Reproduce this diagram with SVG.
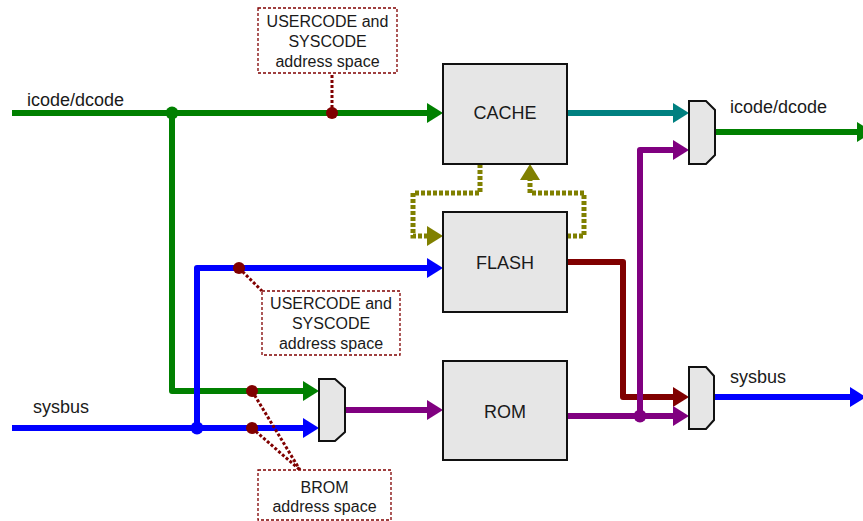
<svg xmlns="http://www.w3.org/2000/svg" width="863" height="521" viewBox="0 0 863 521">
<style>
text{font-family:"Liberation Sans",Arial,sans-serif;fill:#1a1a1a}
.lbl{font-size:18px}
.box{fill:#e6e6e6;stroke:#111;stroke-width:2}
.bt{font-size:18px;text-anchor:middle}
.note{fill:#fff;stroke:#800000;stroke-width:1.3;stroke-dasharray:3,2}
.nt{font-size:16px;text-anchor:middle}
.w{fill:none;stroke-width:6;stroke-linejoin:round}
.dot{fill:none;stroke:#800000;stroke-width:3;stroke-dasharray:3,2}
.ol{fill:none;stroke:#808000;stroke-width:5;stroke-dasharray:4,2}
</style>
<defs>
<marker id="aG" markerUnits="userSpaceOnUse" markerWidth="16" markerHeight="20" viewBox="0 0 16 20" refX="0" refY="10" orient="auto"><path d="M0,0 L16,10 L0,20 Z" fill="#008000"/></marker>
<marker id="aB" markerUnits="userSpaceOnUse" markerWidth="16" markerHeight="20" viewBox="0 0 16 20" refX="0" refY="10" orient="auto"><path d="M0,0 L16,10 L0,20 Z" fill="#0000ff"/></marker>
<marker id="aP" markerUnits="userSpaceOnUse" markerWidth="16" markerHeight="20" viewBox="0 0 16 20" refX="0" refY="10" orient="auto"><path d="M0,0 L16,10 L0,20 Z" fill="#800080"/></marker>
<marker id="aT" markerUnits="userSpaceOnUse" markerWidth="16" markerHeight="20" viewBox="0 0 16 20" refX="0" refY="10" orient="auto"><path d="M0,0 L16,10 L0,20 Z" fill="#008080"/></marker>
<marker id="aR" markerUnits="userSpaceOnUse" markerWidth="16" markerHeight="20" viewBox="0 0 16 20" refX="0" refY="10" orient="auto"><path d="M0,0 L16,10 L0,20 Z" fill="#800000"/></marker>
<marker id="aO" markerUnits="userSpaceOnUse" markerWidth="16" markerHeight="20" viewBox="0 0 16 20" refX="0" refY="10" orient="auto"><path d="M0,0 L16,10 L0,20 Z" fill="#808000"/></marker>
</defs>
<rect width="863" height="521" fill="#fff"/>

<g id="connectors">
  <path class="w" stroke="#008000" d="M12,113 H427" marker-end="url(#aG)"/>
  <path class="w" stroke="#008000" d="M172,113 V391 H303" marker-end="url(#aG)"/>
  <path class="w" stroke="#0000ff" d="M12,428 H303" marker-end="url(#aB)"/>
  <path class="w" stroke="#0000ff" d="M197,428 V268 H427" marker-end="url(#aB)"/>
  <path class="w" stroke="#800080" d="M345,410 H427" marker-end="url(#aP)"/>
  <path class="w" stroke="#008080" d="M567,113 H673" marker-end="url(#aT)"/>
  <path class="w" stroke="#008000" d="M715,132 H857" marker-end="url(#aG)"/>
  <path class="w" stroke="#0000ff" d="M714,397 H850" marker-end="url(#aB)"/>
  <path class="w" stroke="#800000" d="M567,262 H623 V397 H673" marker-end="url(#aR)"/>
  <path class="w" stroke="#800080" d="M567,416 H673" marker-end="url(#aP)"/>
  <path class="w" stroke="#800080" d="M640,416 V150 H673" marker-end="url(#aP)"/>
  <path class="ol" d="M480,164 V193 H413 V236 H427" marker-end="url(#aO)"/>
  <path class="ol" d="M567,236 H584 V193 H530 V180" marker-end="url(#aO)"/>
  <path class="dot" d="M332,113 V73"/>
  <path class="dot" d="M239,268 L262,291"/>
  <path class="dot" d="M252,391 L300,470"/>
  <path class="dot" d="M252,428 L300,470"/>
  <circle cx="172" cy="113" r="6.5" fill="#008000"/>
  <circle cx="197" cy="428" r="6.5" fill="#0000ff"/>
  <circle cx="640" cy="416" r="6.5" fill="#800080"/>
  <circle cx="332" cy="113" r="6" fill="#800000"/>
  <circle cx="239" cy="268" r="6" fill="#800000"/>
  <circle cx="252" cy="391" r="6" fill="#800000"/>
  <circle cx="252" cy="428" r="6" fill="#800000"/>
</g>

<g id="cache"><rect class="box" x="443" y="64" width="124" height="100"/><text class="bt" x="505" y="119">CACHE</text></g>
<g id="flash"><rect class="box" x="443" y="212" width="124" height="100"/><text class="bt" x="505" y="269">FLASH</text></g>
<g id="rom"><rect class="box" x="443" y="361" width="124" height="99"/><text class="bt" x="505" y="418">ROM</text></g>

<g id="mux-rom"><path class="box" d="M319,379 H335 L345,388 V432 L335,441 H319 Z"/></g>
<g id="mux-icode"><path class="box" d="M689,101 H706 L715,110 V155 L706,164 H689 Z"/></g>
<g id="mux-sysbus"><path class="box" d="M689,367 H706 L714,376 V420 L706,429 H689 Z"/></g>

<g id="note-top"><rect class="note" x="258" y="8" width="139" height="65"/>
<text class="nt" x="327.5" y="27">USERCODE and</text><text class="nt" x="327.5" y="47">SYSCODE</text><text class="nt" x="327.5" y="67">address space</text></g>
<g id="note-mid"><rect class="note" x="262" y="291" width="138" height="64"/>
<text class="nt" x="331" y="309">USERCODE and</text><text class="nt" x="331" y="329">SYSCODE</text><text class="nt" x="331" y="349">address space</text></g>
<g id="note-brom"><rect class="note" x="258" y="470" width="133" height="50"/>
<text class="nt" x="324.5" y="493">BROM</text><text class="nt" x="324.5" y="512">address space</text></g>

<g id="labels">
<text class="lbl" x="27" y="106">icode/dcode</text>
<text class="lbl" x="33" y="413">sysbus</text>
<text class="lbl" x="730" y="113">icode/dcode</text>
<text class="lbl" x="730" y="383">sysbus</text>
</g>
</svg>
